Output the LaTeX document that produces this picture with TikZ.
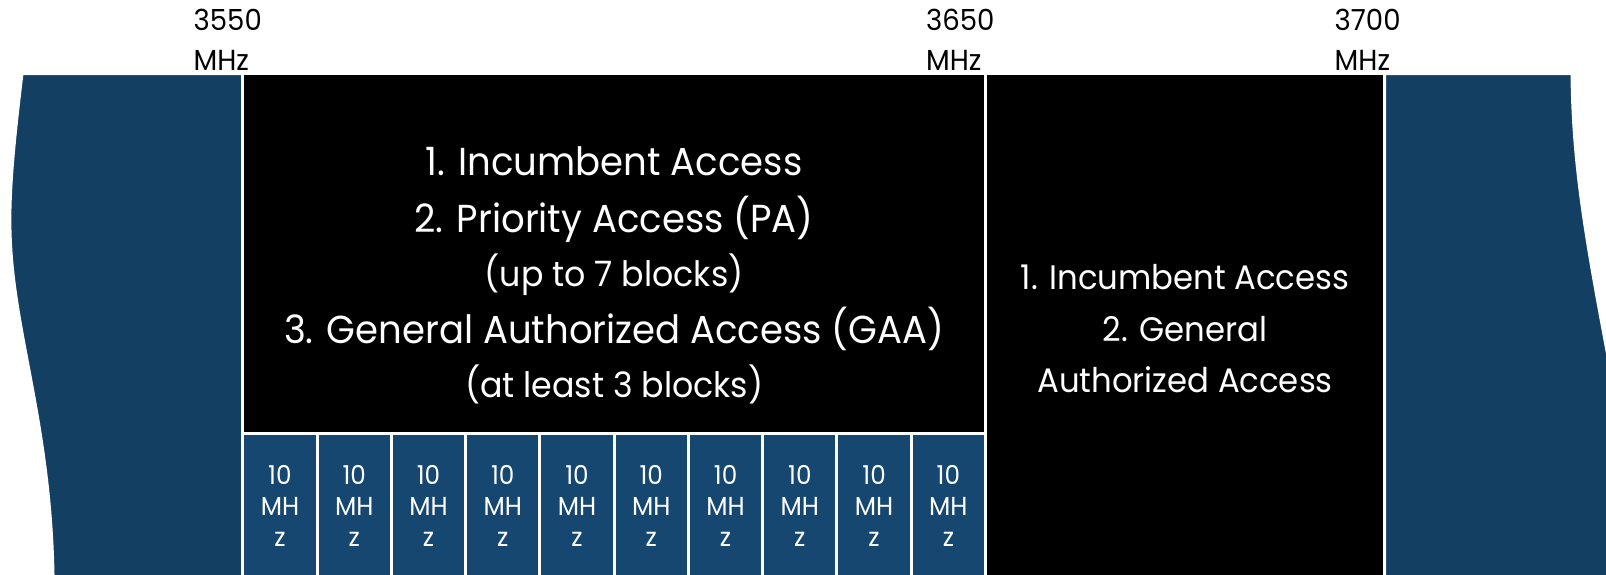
\documentclass[tikz,border=0pt]{standalone}
\usepackage{fontspec}
\setmainfont[FakeStretch=0.95]{Poppins}
\definecolor{bandblue}{RGB}{18,63,98}
\definecolor{chanblue}{RGB}{22,71,112}

\begin{document}
\begin{tikzpicture}[x=1pt,y=-1pt,
  gapline/.style={draw=white,line width=3pt},
  bigtxt/.style={text=white,anchor=base,font=\fontsize{39}{47}\selectfont},
  subtxt/.style={text=white,anchor=base,font=\fontsize{35}{42}\selectfont},
  sidetxt/.style={text=white,anchor=base,font=\fontsize{34}{41}\selectfont},
  chantxt/.style={text=white,anchor=base,font=\fontsize{26}{31}\selectfont},
  freqtxt/.style={anchor=base west,inner xsep=0pt,font=\fontsize{29}{35}\selectfont}]
\useasboundingbox (0,0) rectangle (1606,574);
\clip (0,0) rectangle (1606,574);
% left band edge
\filldraw[fill=bandblue,gapline] (22,73.5) -- (242.8,73.5) -- (242.8,590) -- (53,590)
  -- (53,574) .. controls (50,420) and (12,330) .. (10,230)
  .. controls (9,190) and (14,140) .. (22,73.5) -- cycle;
% right band edge
\filldraw[fill=bandblue,gapline] (1384.5,73.5) -- (1572,73.5)
  .. controls (1573,180) and (1590,260) .. (1620,420)
  -- (1640,590) -- (1384.5,590) -- cycle;
% shared part 3550-3650
\filldraw[fill=black,gapline] (242.8,73.5) rectangle (985.5,433.7);
\node[bigtxt] (pa1) at (614.2,175) {1. Incumbent Access};
\node[bigtxt] (pa2) at (614.2,232) {2. Priority Access (PA)};
\node[subtxt] (pa3) at (614.2,286) {(up to 7 blocks)};
\node[bigtxt] (pa4) at (614.2,343) {3. General Authorized Access (GAA)};
\node[subtxt] (pa5) at (614.2,397) {(at least 3 blocks)};
% 10 MHz channels
\foreach \i in {0,...,9}{
  \filldraw[fill=chanblue,gapline] ({242.8+74.27*\i},433.7) rectangle ({242.8+74.27*(\i+1)},590);
  \node[chantxt] (ch\i a) at ({242.8+74.27*(\i+0.5)},484) {10};
  \node[chantxt] (ch\i b) at ({242.8+74.27*(\i+0.5)},515) {MH};
  \node[chantxt] (ch\i c) at ({242.8+74.27*(\i+0.5)},546) {z};
}
% part 3650-3700
\filldraw[fill=black,gapline] (985.5,73.5) rectangle (1384.5,590);
\node[sidetxt] (ga1) at (1185,289.5) {1. Incumbent Access};
\node[sidetxt] (ga2) at (1185,341) {2. General};
\node[sidetxt] (ga3) at (1185,392) {Authorized Access};
% band limits
\node[freqtxt] (f1a) at (193.5,30.7) {3550};
\node[freqtxt] (f1b) at (193.5,70) {MHz};
\node[freqtxt] (f2a) at (926,30.7) {3650};
\node[freqtxt] (f2b) at (926,70) {MHz};
\node[freqtxt] (f3a) at (1334.5,30.7) {3700};
\node[freqtxt] (f3b) at (1334.5,70) {MHz};
\end{tikzpicture}
\end{document}
